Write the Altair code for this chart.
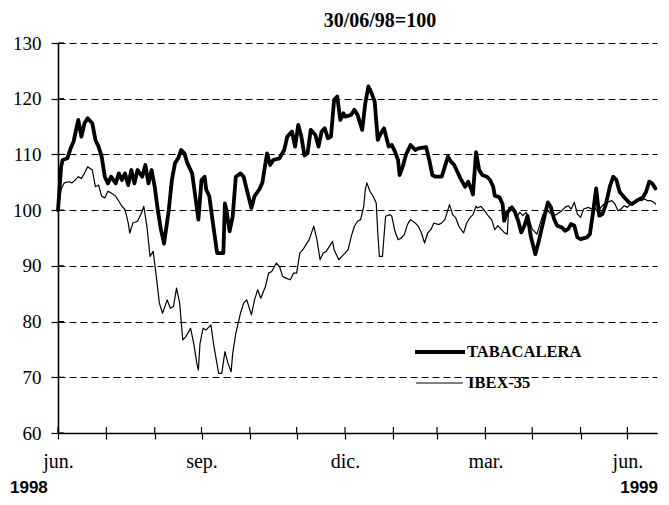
import altair as alt
import pandas as pd

# Days since 30/06/98 and index values (30/06/98 = 100)
tab_days = [0,2,3,6,8,10,12,13,15,17,
            19,22,24,26,28,30,32,34,37,39,
            41,43,45,47,49,51,54,56,58,60,
            62,64,66,68,71,73,75,77,79,81,
            83,86,88,90,92,94,95,97,99,102,
            106,107,108,110,112,114,117,119,121,124,
            126,129,131,134,136,138,142,145,147,150,
            152,154,156,158,160,162,165,167,169,171,
            173,175,177,179,181,183,184,188,190,192,
            195,197,199,201,203,205,207,209,212,214,
            216,218,219,221,223,226,229,231,236,238,
            240,242,246,248,250,252,254,256,258,261,
            263,265,266,268,270,272,275,277,279,280,
            283,285,286,288,291,293,295,297,299,301,
            303,306,308,310,312,314,316,318,320,323,
            325,327,329,331,333,335,339,341,343,345,
            347,349,351,354,356,358,360,362,364,366,
            368,371,373,375,377,379,381,383]
tab_vals = [100,107.8,109,109.3,111,112.3,115,116.2,113.2,115.6,
            116.5,115.6,112.6,111.4,109.6,106,104.8,106,104.8,106.6,
            105.4,106.6,104.5,107.2,104.8,107.2,106,108.1,104.8,107.2,
            104.2,100,96.5,94,100,105.4,108.4,109.3,110.8,110.2,
            108.4,106.6,102.5,98.3,105.4,106,103.7,102.5,98.3,92.3,
            92.3,101.2,100,96.2,98.9,106,106.6,106,103.7,100.4,
            102.5,103.7,104.9,110.2,108.1,109,109.3,110.8,113.2,114.1,
            111.4,115.3,113.2,109.8,110.2,114.4,113.5,111.4,114.1,114.7,
            112.9,113.2,119.8,120.4,116.2,117.4,116.8,117.1,118,117.1,
            114.4,119.2,122.2,121,119.5,112.6,113.8,114.7,111.4,111.7,
            110.5,109,106.3,107.8,109.9,111.7,110.8,111.1,111.3,109,
            106.3,106,106,107.8,109.6,108.7,108.1,106.9,105.7,104.2,
            105.1,103.7,102.8,110.4,107.2,106.3,106,105.4,104.2,102.6,
            102.3,101.1,98.1,99.6,100.5,99.6,98.1,96,97.2,99,
            95.4,92.1,94.2,96.6,99,101.4,100.5,98.4,97.2,96.9,
            96.3,96.6,97.5,97.2,95.1,94.8,95.1,95.7,99.6,103.9,
            99,99.3,100.8,104.5,106,105.4,103.3,102.6,102,101.4,
            101.1,101.7,102,102.3,103.3,105.1,104.8,103.9]

ibex_days = [0,2,4,7,9,11,13,15,17,19,
             22,24,26,28,30,32,34,37,39,41,
             43,45,46,48,51,54,55,57,59,61,
             63,65,67,70,72,74,76,78,80,82,
             85,87,89,90,91,93,95,98,100,103,
             105,107,109,111,112,114,117,119,121,124,
             126,128,130,133,135,137,140,142,144,146,
             149,151,153,155,157,159,161,164,166,168,
             170,172,174,176,177,180,182,184,186,188,
             190,192,194,196,197,198,200,202,204,205,
             206,208,210,213,214,216,218,220,222,224,
             226,229,231,233,235,237,239,241,244,246,
             248,250,251,253,255,257,260,262,264,266,
             268,269,271,273,276,278,280,282,284,286,
             288,289,292,294,296,298,300,302,304,307,
             309,311,314,316,318,320,323,325,327,329,
             331,333,335,337,340,342,344,346,348,350,
             352,355,357,359,361,363,365,367,370,372,
             374,376,378,380,382,383]
ibex_vals = [100,103.7,104.9,105.1,104.9,105.4,106,105.7,106.6,107.8,
             107.2,104.2,104.5,102.5,102.2,103.4,103.1,102.5,101.6,100.7,
             100.1,97.7,95.9,97.7,98,99.8,100.7,97.1,91.7,92.6,
             88.1,83.3,81.5,83.9,82.4,82.7,86,83.3,76.7,77.3,
             78.8,76.1,72.5,71.3,76,78.8,78.5,79.4,75.5,70.7,
             70.7,74.6,72.5,71,74.3,77.9,81.5,83.3,83.9,81.2,
             83.9,85.7,84.2,86.3,88.7,89,90.5,89.9,88.1,87.8,
             87.5,88.7,88.7,92.3,92.9,93.8,94.7,97.1,94.7,91.1,
             92.3,92.6,93.5,94.4,92.9,91.1,91.7,92.3,92.9,95.3,
             97.1,98,98.3,100.7,103.7,104.9,103.4,102.5,101.3,95.9,
             91.7,91.7,98.9,99.2,98.9,96.2,94.7,95,95.6,97.4,
             98.3,97.7,97.1,95.9,94.1,95.9,96.5,97.7,97.4,97.7,
             98.3,100.1,101,99.2,98.6,97.1,95.9,97.7,98.6,99.2,
             100.7,100.4,100.7,100.1,98.9,98.3,96.5,97.2,96.6,96,
             95.7,100.5,99.9,98.7,99.6,99,99.6,98.4,96.6,95.7,
             97.5,99.3,99.9,99.3,99,99.3,99.9,100.5,100.8,100.2,
             101.4,99.3,98.7,100.2,100.5,100.2,100.5,99.6,100.5,101.1,
             101.4,101.7,101.1,99.9,100.2,100.8,100.5,101.1,101.7,102,
             101.7,102,101.7,101.7,101.4,101.1]

series_names = ["TABACALERA", "IBEX-35"]
# month-end ticks (days since 30/06/98)
x_tick_days = [0, 31, 62, 92, 123, 153, 184, 215, 243, 274, 304, 335, 365]
x_tick_labels = {0: "jun.", 92: "sep.", 184: "dic.", 274: "mar.", 365: "jun."}
y_ticks = [60, 70, 80, 90, 100, 110, 120, 130]
year_labels = ["1998", "1999"]
title_text = "30/06/98=100"

df = pd.concat([
    pd.DataFrame({"day": tab_days, "value": tab_vals, "serie": series_names[0]}),
    pd.DataFrame({"day": ibex_days, "value": ibex_vals, "serie": series_names[1]}),
], ignore_index=True)

label_expr = " : ".join(f"datum.value == {k} ? '{v}'" for k, v in x_tick_labels.items()) + " : ''"

SERIF = "Liberation Serif"
SANS = "Liberation Sans"
W, H = 599, 390

x_scale = alt.Scale(domain=[0, 384], nice=False, zero=False)
y_scale = alt.Scale(domain=[60, 130], nice=False, zero=False)

x_axis = alt.Axis(values=x_tick_days, labelExpr=label_expr, title=None, grid=False,
                  tickSize=6, tickColor="black", tickWidth=1.2,
                  domainColor="black", domainWidth=1.6,
                  labelFont=SERIF, labelFontSize=20, labelColor="black",
                  labelPadding=12, labelOverlap=False, labelFlush=False)
y_axis = alt.Axis(values=y_ticks, title=None, grid=True, gridColor="black",
                  gridDash=[7, 4], gridWidth=1, gridOpacity=1,
                  tickSize=7, tickColor="black", tickWidth=1.2,
                  domainColor="black", domainWidth=1.6,
                  labelFont=SERIF, labelFontSize=19, labelColor="black",
                  labelPadding=10)

lines = alt.Chart(df).mark_line(color="black", strokeJoin="round", strokeCap="round").encode(
    x=alt.X("day:Q", scale=x_scale, axis=x_axis),
    y=alt.Y("value:Q", scale=y_scale, axis=y_axis),
    strokeWidth=alt.StrokeWidth("serie:N", scale=alt.Scale(domain=series_names, range=[3.8, 1.2]), legend=None),
    detail="serie:N",
    order="day:Q",
)

# inward halves of the crossing tick marks
xt = alt.Chart(pd.DataFrame({"day": x_tick_days})).mark_rule(color="black", strokeWidth=1.2).encode(
    x=alt.X("day:Q", scale=x_scale), y=alt.value(H - 6), y2=alt.value(H))
yt = alt.Chart(pd.DataFrame({"value": y_ticks})).mark_rule(color="black", strokeWidth=1.2).encode(
    y=alt.Y("value:Q", scale=y_scale), x=alt.value(0), x2=alt.value(6))

one = pd.DataFrame({"k": [0]})
leg1_line = alt.Chart(one).mark_rule(color="black", strokeWidth=3.8).encode(
    x=alt.value(357), x2=alt.value(407), y=alt.value(309))
leg2_line = alt.Chart(one).mark_rule(color="black", strokeWidth=1.2).encode(
    x=alt.value(358), x2=alt.value(405), y=alt.value(340))
leg1_text = alt.Chart(one).mark_text(text=series_names[0], font=SERIF, fontSize=16.5, fontWeight="bold",
                                     align="left", baseline="middle", color="black").encode(
    x=alt.value(409), y=alt.value(309))
leg2_text = alt.Chart(one).mark_text(text=series_names[1], font=SERIF, fontSize=16.5, fontWeight="bold",
                                     align="left", baseline="middle", color="black").encode(
    x=alt.value(410), y=alt.value(340))

title = alt.Chart(one).mark_text(text=title_text, font=SERIF, fontSize=20, fontWeight="bold",
                                 align="center", baseline="alphabetic", color="black").encode(
    x=alt.value(322), y=alt.value(-16))

yr1 = alt.Chart(one).mark_text(text=year_labels[0], font=SANS, fontSize=17, fontWeight="bold",
                               align="left", baseline="alphabetic", color="black").encode(
    x=alt.value(-48), y=alt.value(450))
yr2 = alt.Chart(one).mark_text(text=year_labels[1], font=SANS, fontSize=17, fontWeight="bold",
                               align="right", baseline="alphabetic", color="black").encode(
    x=alt.value(600), y=alt.value(450))

chart = alt.layer(lines, xt, yt, leg1_line, leg2_line, leg1_text, leg2_text, title, yr1, yr2).properties(
    width=W, height=H,
    autosize=alt.AutoSizeParams(type="none"),
    padding={"left": 50, "top": 35, "right": 4, "bottom": 64},
    background="white",
).configure_view(stroke=None)

chart.save("out.html", embed_options={"renderer": "svg", "actions": False})
